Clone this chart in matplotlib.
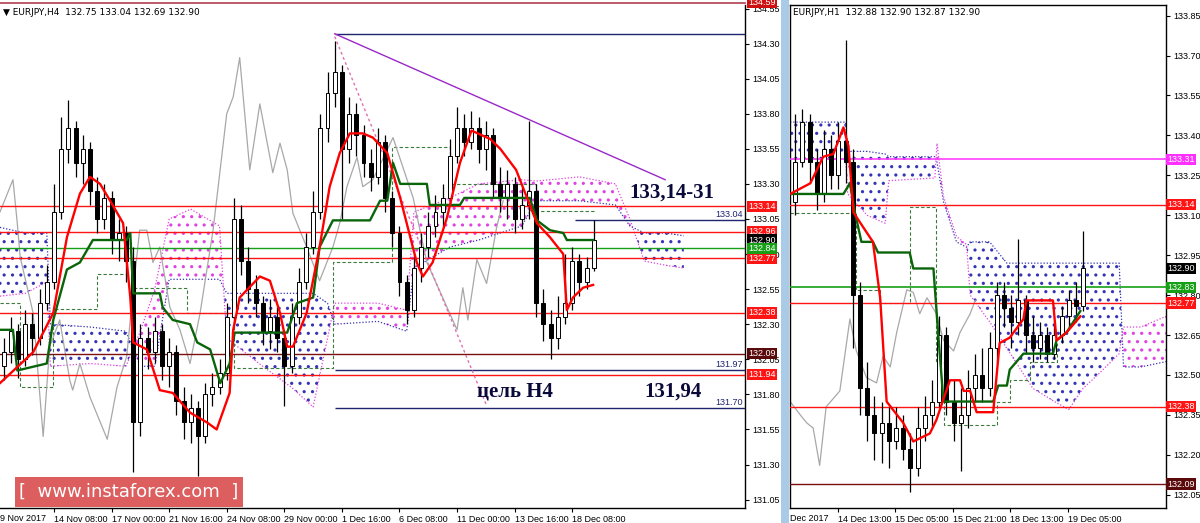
import matplotlib.pyplot as plt
import matplotlib.transforms as mtransforms
from matplotlib.patches import Rectangle
import numpy as np

plt.rcParams['hatch.linewidth'] = 1.1

# ---------------- EURJPY H4 (drawn as 8h candles) ----------------
h4_first_open = 132.00
h4_close = [132.10, 132.25, 132.05, 132.30, 132.20, 132.45, 132.60, 133.10, 133.55, 133.70,
            133.45, 133.55, 133.25, 133.05, 133.20, 132.90, 132.95, 132.75, 131.60, 132.20,
            132.10, 132.25, 132.00, 132.10, 131.75, 131.60, 131.70, 131.50, 131.80, 131.85,
            131.95, 132.35, 133.05, 132.75, 132.55, 132.45, 132.25, 132.35, 132.20, 132.00,
            132.35, 132.60, 132.85, 133.10, 133.70, 133.95, 134.10, 133.55, 133.80, 133.65,
            133.45, 133.35, 133.60, 133.20, 132.95, 132.60, 132.40, 132.70, 132.85, 133.00,
            133.10, 133.20, 133.50, 133.70, 133.60, 133.70, 133.55, 133.65, 133.30, 133.20,
            133.30, 133.05, 133.15, 133.25, 132.45, 132.30, 132.20, 132.35, 132.45, 132.75,
            132.60, 132.70, 132.90]
h4_high = [132.20, 132.35, 132.30, 132.40, 132.38, 132.55, 132.72, 133.30, 133.78, 133.90,
           133.75, 133.65, 133.60, 133.35, 133.30, 133.25, 133.05, 133.00, 132.85, 132.30,
           132.28, 132.35, 132.30, 132.20, 132.15, 131.85, 131.80, 131.75, 131.88, 131.95,
           132.05, 132.45, 133.20, 133.15, 132.85, 132.65, 132.50, 132.48, 132.42, 132.25,
           132.45, 132.70, 132.95, 133.25, 133.80, 134.10, 134.32, 134.15, 133.92, 133.88,
           133.72, 133.55, 133.70, 133.65, 133.25, 133.00, 132.65, 132.80, 132.95, 133.10,
           133.22, 133.30, 133.62, 133.85, 133.80, 133.82, 133.78, 133.75, 133.70, 133.42,
           133.40, 133.35, 133.28, 133.75, 133.30, 132.55, 132.40, 132.50, 132.80, 132.85,
           132.80, 132.78, 133.04]
h4_low = [131.90, 132.02, 131.92, 132.00, 132.08, 132.15, 132.40, 132.55, 133.05, 133.45,
          133.35, 133.30, 133.15, 132.95, 132.98, 132.80, 132.75, 132.60, 131.25, 131.50,
          131.98, 132.02, 131.90, 131.85, 131.65, 131.48, 131.45, 131.22, 131.45, 131.72,
          131.80, 131.90, 132.30, 132.65, 132.45, 132.35, 132.15, 132.12, 132.10, 131.72,
          131.95, 132.30, 132.55, 132.80, 133.05, 133.60, 133.85, 133.05, 133.45, 133.50,
          133.35, 133.25, 133.30, 133.10, 132.85, 132.50, 132.30, 132.35, 132.60, 132.78,
          132.92, 133.00, 133.15, 133.45, 133.50, 133.55, 133.45, 133.40, 133.20, 133.10,
          133.05, 132.95, 132.98, 133.05, 132.35, 132.18, 132.05, 132.12, 132.30, 132.40,
          132.50, 132.55, 132.68]

# ichimoku lines (bar index, price)
h4_tenkan_x = [-0.5, 4.1, 6.9, 8.8, 10.6, 12, 13.4, 14.8, 16.6, 17.6, 18, 19.9, 21.7, 23.5, 25.9,
               28.25, 29.6, 31.4, 31.9, 32.8, 35.6, 37, 38.4, 39.4, 40.2, 42.1, 43.9, 45.3, 46.7,
               48.1, 49.9, 51.3, 53.3, 55.1, 57.4, 58.25, 59.6, 61.6, 63.4, 65, 67.6, 69, 71.2,
               73.1, 74.1, 75.9, 77.75, 78.25, 79.1, 80.5, 81.9]
h4_tenkan_y = [131.88, 132.10, 132.38, 132.92, 133.23, 133.35, 133.30, 133.18, 133.02, 132.49,
               132.17, 132.12, 131.83, 131.81, 131.67, 131.60, 131.55, 131.81, 132.26, 132.49,
               132.64, 132.61, 132.38, 132.14, 132.14, 132.38, 132.85, 133.28, 133.52, 133.66,
               133.66, 133.63, 133.52, 133.20, 132.74, 132.64, 132.74, 133.06, 133.45, 133.68,
               133.62, 133.55, 133.40, 133.15, 133.02, 132.92, 132.80, 132.40, 132.49, 132.56,
               132.58]
h4_kijun_x = [-0.5, 1.3, 1.9, 6, 6.9, 8.8, 10.6, 12.4, 17.1, 17.6, 18, 21.7, 22.1, 23.5, 25.9,
              26.9, 28.7, 30.1, 31.4, 32.1, 39.4, 40.75, 43, 43.9, 45.75, 50.9, 52.3, 53.3, 54.1,
              55.1, 58.8, 59.2, 63.4, 64, 73.1, 74.1, 75.9, 77.75, 78.25, 81.9]
h4_kijun_y = [132.26, 132.26, 131.97, 132.02, 132.33, 132.69, 132.74, 132.90, 132.90, 132.95,
              132.52, 132.52, 132.42, 132.33, 132.30, 132.17, 132.12, 131.88, 132.02, 132.24,
              132.24, 132.45, 132.49, 132.85, 133.04, 133.04, 133.18, 133.18, 133.45, 133.30,
              133.30, 133.15, 133.15, 133.20, 133.20, 133.04, 132.97, 132.95, 132.90, 132.90]
h4_chikou_x = [-0.5, 1.3, 1.9, 2.3, 4.1, 5.5, 6.4, 7.8, 9.2, 9.6, 10.6, 12, 14.4, 15.75, 17.1,
               18, 18.9, 19.9, 20.75, 21.7, 23.1, 24.5, 25.9, 27.3, 29.1, 31, 31.9, 32.8, 34.2,
               35.6, 37.4, 38.4, 39.4, 40.2, 42.1, 43.9, 45.75, 46.7, 47.7, 49.1, 49.9, 51.3,
               54.1, 56.9, 58.8, 61, 63, 63.8, 64.5, 65.75, 67.1, 68.5, 69.4]
h4_chikou_y = [133.10, 133.33, 133.02, 132.78, 132.38, 131.50, 132.14, 132.33, 131.90, 131.83,
               132.02, 131.78, 131.48, 131.85, 132.07, 132.54, 132.97, 132.97, 132.74, 132.85,
               132.42, 132.26, 132.02, 132.38, 132.97, 133.80, 133.92, 134.20, 133.40, 133.87,
               133.38, 133.59, 133.40, 133.09, 132.85, 132.61, 132.85, 133.02, 133.28, 133.49,
               133.28, 133.33, 133.63, 133.20, 132.74, 132.49, 132.26, 132.56, 132.33, 132.76,
               132.59, 132.99, 133.18]
h4_dash_x = [-0.5, 2.3, 6.9, 13.0, 18.0, 25.5, 32.0, 45.8, 54.0, 62.0, 74.0, 82.0]
h4_dash_y = [132.45, 131.85, 132.41, 132.66, 132.56, 132.38, 131.99, 132.74, 133.56, 133.30,
             133.11, 133.11]
h4_cloud_x = [-0.5, 3, 6, 6.5, 12, 17, 19, 21, 23, 26, 30, 31, 36, 40, 43, 45, 46, 52, 56, 57,
              62, 66, 72, 74, 80, 85, 87, 89, 92, 94.5]
h4_span_a = [132.99, 132.95, 132.95, 132.30, 132.28, 132.25, 132.00, 132.00, 132.62, 132.62,
             132.62, 132.52, 132.52, 132.52, 132.52, 132.45, 132.30, 132.32, 132.25, 132.70,
             132.85, 132.90, 133.00, 133.18, 133.18, 133.15, 133.00, 132.95, 132.95, 132.93]
h4_span_b = [132.50, 132.52, 132.60, 132.00, 132.02, 132.00, 132.25, 132.55, 133.05, 133.12,
             133.00, 132.20, 132.00, 131.85, 131.71, 132.20, 132.45, 132.45, 132.40, 133.10,
             133.20, 133.30, 133.33, 133.32, 133.35, 133.30, 133.05, 132.75, 132.72, 132.70]

h4_levels_red = [133.14, 132.96, 132.77, 132.38, 131.94]
h4_level_green = 132.84
h4_level_darkred = 132.09
h4_level_top = 134.59
h4_navy_levels = [134.37, 131.97, 131.70]
h4_navy_start = 46
h4_level_1304 = 133.04
h4_level_1304_start = 79.4
trend_x = [46, 91.9]
trend_y = [134.37, 133.33]
fib_x = [46, 67.1]
fib_y = [134.35, 131.72]
h4_tick_pos = [7, 15, 23, 31, 39, 47, 55, 63, 71, 79]
h4_tick_lbl = ['14 Nov 08:00', '17 Nov 00:00', '21 Nov 16:00', '24 Nov 08:00', '29 Nov 00:00',
               '1 Dec 16:00', '6 Dec 08:00', '11 Dec 00:00', '13 Dec 16:00', '18 Dec 08:00']

# ---------------- EURJPY H1 (drawn as 2h candles) ----------------
h1_first_open = 133.15
h1_close = [133.30, 133.45, 133.30, 133.18, 133.35, 133.25, 133.38, 133.30, 132.80, 132.45,
            132.35, 132.28, 132.32, 132.25, 132.30, 132.22, 132.15, 132.30, 132.35, 132.40,
            132.65, 132.40, 132.32, 132.35, 132.45, 132.50, 132.45, 132.60, 132.80, 132.75,
            132.70, 132.78, 132.65, 132.60, 132.65, 132.58, 132.65, 132.72, 132.78, 132.76,
            132.90]
h1_high = [133.48, 133.50, 133.48, 133.35, 133.42, 133.40, 133.45, 133.76, 133.35, 132.85,
           132.55, 132.42, 132.40, 132.38, 132.38, 132.35, 132.28, 132.38, 132.42, 132.48,
           132.72, 132.68, 132.48, 132.45, 132.52, 132.58, 132.60, 132.66, 132.85, 132.85,
           132.80, 133.01, 132.80, 132.72, 132.70, 132.68, 132.70, 132.76, 132.82, 132.85,
           133.04]
h1_low = [133.10, 133.28, 133.22, 133.12, 133.15, 133.20, 133.20, 133.22, 132.60, 132.35,
          132.25, 132.18, 132.17, 132.15, 132.22, 132.18, 132.06, 132.12, 132.25, 132.30,
          132.38, 132.35, 132.25, 132.14, 132.30, 132.40, 132.40, 132.42, 132.55, 132.68,
          132.60, 132.65, 132.58, 132.55, 132.56, 132.55, 132.56, 132.62, 132.68, 132.70,
          132.74]
h1_tenkan_x = [-0.7, 0.7, 2.1, 3.9, 5.3, 6.7, 7.4, 8.1, 10.8, 11.8, 12.7, 15.0, 16.4, 18.7, 19.6,
               20.6, 21.5, 22.9, 23.4, 24.3, 25.2, 27.5, 28.4, 29.8, 31.7, 32.1, 35.8, 36.3, 37.7,
               39.6]
h1_tenkan_y = [133.18, 133.20, 133.22, 133.32, 133.33, 133.43, 133.36, 133.11, 133.00, 132.79,
               132.40, 132.32, 132.25, 132.28, 132.33, 132.41, 132.48, 132.48, 132.44, 132.44,
               132.36, 132.36, 132.62, 132.64, 132.71, 132.78, 132.78, 132.63, 132.66, 132.72]
h1_kijun_x = [-0.7, 6.7, 7.6, 8.3, 9.2, 10.8, 11.5, 15.9, 16.4, 19.2, 19.9, 20.6, 27.5, 28.2,
              29.4, 29.8, 31.7, 35.8, 36.3, 37.7, 39.6]
h1_kijun_y = [133.18, 133.18, 133.22, 133.11, 133.00, 133.00, 132.96, 132.96, 132.90, 132.90,
              132.64, 132.40, 132.40, 132.46, 132.46, 132.52, 132.58, 132.58, 132.63, 132.66,
              132.74]
h1_chikou_x = [-0.7, 0.7, 1.6, 2.5, 3.4, 4.3, 6.2, 7.6, 8.5, 9.9, 11.3, 12.2, 13.2, 14.1, 15.5,
               16.4, 17.3, 18.3, 19.6, 20.6, 22.0, 22.9, 24.3, 25.0]
h1_chikou_y = [132.40, 132.35, 132.32, 132.30, 132.16, 132.38, 132.44, 132.71, 132.59, 132.49,
               132.47, 132.57, 132.53, 132.66, 132.82, 132.81, 132.73, 132.79, 132.73, 132.63,
               132.59, 132.66, 132.73, 132.78]
h1_dash_x = [-0.7, 7.1, 8.5, 11.8, 15.9, 19.6, 20.6, 28.0, 29.8, 32.6, 36.3]
h1_dash_y = [133.11, 133.11, 132.82, 132.77, 133.13, 132.55, 132.31, 132.40, 132.48, 132.55,
             132.62]
h1_cloud_x = [-0.7, 7.0, 7.3, 10, 12.5, 13, 19.4, 19.7, 20.6, 22.4, 23.8, 24.3, 27, 29.4, 33, 36,
              38, 40, 42, 45, 45.6, 48, 51.5]
h1_span_a = [133.45, 133.45, 133.34, 133.34, 133.33, 133.32, 133.32, 133.30, 133.15, 133.00,
             132.98, 133.00, 133.00, 132.92, 132.92, 132.92, 132.92, 132.92, 132.92, 132.92,
             132.53, 132.53, 132.55]
h1_span_b = [133.31, 133.31, 133.18, 133.10, 133.07, 133.23, 133.24, 133.37, 133.17, 133.02,
             132.99, 132.80, 132.70, 132.60, 132.45, 132.40, 132.37, 132.45, 132.50, 132.58,
             132.68, 132.68, 132.72]
h1_levels_red = [133.14, 132.77, 132.38]
h1_level_green = 132.83
h1_level_magenta = 133.31
h1_level_darkred = 132.09
h1_tick_pos = [5.9, 13.9, 21.9, 29.9, 37.9]
h1_tick_lbl = ['14 Dec 13:00', '15 Dec 05:00', '15 Dec 21:00', '18 Dec 13:00', '19 Dec 05:00']

RED = '#ff1414'
DKRED = '#7a1010'
GREEN = '#16a016'
NAVY = '#1e2470'
BLUE_C = '#3434b4'
PINK_C = '#e044e0'
TICK_FONT = 'Liberation Sans'
TICK_SIZE = 6.5


def draw_candles(ax, first_open, close, high, low):
    opens = [first_open] + close[:-1]
    x = np.arange(len(close))
    ax.vlines(x, low, high, color='black', lw=0.9, zorder=4)
    for xi, o, c in zip(x, opens, close):
        fc = 'white' if c >= o else 'black'
        h = max(abs(c - o), 0.006)
        ax.bar(xi, h, bottom=min(o, c), width=0.55, facecolor=fc,
               edgecolor='black', linewidth=0.7, zorder=5)


def draw_cloud(ax, x, a, b):
    x = np.array(x)
    a = np.array(a)
    b = np.array(b)
    ax.fill_between(x, a, b, where=a >= b, interpolate=True, facecolor='none',
                    edgecolor=BLUE_C, hatch='..', linewidth=0, zorder=1)
    ax.fill_between(x, a, b, where=a < b, interpolate=True, facecolor='none',
                    edgecolor=PINK_C, hatch='..', linewidth=0, zorder=1)
    ax.plot(x, a, color=BLUE_C, ls=(0, (1, 1.5)), lw=0.9, zorder=1)
    ax.plot(x, b, color=PINK_C, ls=(0, (1, 1.5)), lw=0.9, zorder=1)


def price_tag(ax, y, text, bg, fg='white'):
    tr = mtransforms.blended_transform_factory(ax.transAxes, ax.transData)
    ax.text(1.004, y, text, transform=tr, ha='left', va='center', fontsize=TICK_SIZE, color=fg,
            family=TICK_FONT,
            bbox=dict(boxstyle='square,pad=0.12', fc=bg, ec='none'), clip_on=False, zorder=20)


def style_axis(ax, yticks):
    ax.yaxis.tick_right()
    ax.set_yticks(yticks)
    ax.set_yticklabels([f'{v:.2f}' for v in yticks])
    ax.tick_params(axis='both', labelsize=TICK_SIZE, length=3, width=0.8, pad=2, colors='black')
    for lbl in ax.get_yticklabels() + ax.get_xticklabels():
        lbl.set_family(TICK_FONT)
    for s in ax.spines.values():
        s.set_color('black')
        s.set_linewidth(1)


fig = plt.figure(figsize=(12, 5.23), dpi=100)
fig.patch.set_facecolor('white')

# ---------- left: H4 ----------
ax1 = fig.add_axes([0, 15 / 523, 745 / 1200, 503 / 523])
ax1.set_xlim(-0.5, 103.0)
ax1.set_ylim(130.99, 134.575)
draw_cloud(ax1, h4_cloud_x, h4_span_a, h4_span_b)
ax1.plot(h4_dash_x, h4_dash_y, drawstyle='steps-post', color='#3a7a3a', ls=(0, (3, 2)), lw=0.8, zorder=2)
ax1.plot(h4_chikou_x, h4_chikou_y, color='#a8a8a8', lw=0.9, zorder=2)
for lv in h4_levels_red:
    ax1.axhline(lv, color=RED, lw=1.0, zorder=3)
ax1.axhline(h4_level_green, color=GREEN, lw=1.0, zorder=3)
ax1.axhline(h4_level_darkred, color=DKRED, lw=1.0, zorder=3)
ax1.axhline(h4_level_top, color='#b04050', lw=1.2, zorder=3, clip_on=False)
for lv in h4_navy_levels:
    ax1.hlines(lv, h4_navy_start, 103.0, color=NAVY, lw=1.0, zorder=3)
ax1.hlines(h4_level_1304, h4_level_1304_start, 103.0, color=NAVY, lw=1.0, zorder=3)
ax1.plot(trend_x, trend_y, color='#9a28c8', lw=1.0, zorder=3)
ax1.plot(fib_x, fib_y, color='#e070b0', ls=(0, (2, 2)), lw=1.0, zorder=3)
ax1.plot(h4_kijun_x, h4_kijun_y, color='#0a640a', lw=1.7, zorder=6)
ax1.plot(h4_tenkan_x, h4_tenkan_y, color='#ff0000', lw=1.7, zorder=6)
draw_candles(ax1, h4_first_open, h4_close, h4_high, h4_low)

for lv in [h4_level_1304] + h4_navy_levels[1:]:
    tr = mtransforms.blended_transform_factory(ax1.transAxes, ax1.transData)
    ax1.text(0.997, lv + 0.012, f'{lv:.2f}', transform=tr, ha='right', va='bottom',
             fontsize=6.5, color=NAVY, family=TICK_FONT, zorder=8)

ax1.text(92.8, 133.24, '133,14-31', fontsize=15, fontweight='bold', family='Liberation Serif',
         color='#0a0a3a', ha='center', va='center', zorder=9)
ax1.text(71.1, 131.82, 'цель H4', fontsize=15, fontweight='bold', family='Liberation Serif',
         color='#0a0a3a', ha='center', va='center', zorder=9)
ax1.text(93.0, 131.82, '131,94', fontsize=15, fontweight='bold', family='Liberation Serif',
         color='#0a0a3a', ha='center', va='center', zorder=9)

ax1.set_xticks(h4_tick_pos)
ax1.set_xticklabels(h4_tick_lbl)
style_axis(ax1, np.round(np.arange(131.05, 134.56, 0.25), 2))
ax1.spines['left'].set_visible(False)
ax1.spines['top'].set_visible(False)
for lbl in ax1.get_xticklabels():
    lbl.set_ha('left')
ax1.text(0.0, -0.012, '9 Nov 2017', transform=ax1.transAxes, fontsize=TICK_SIZE, family=TICK_FONT,
         ha='left', va='top')
ax1.text(0.004, 0.995, '\u25bc EURJPY,H4  132.75 133.04 132.69 132.90', transform=ax1.transAxes,
         fontsize=6.5, ha='left', va='top', zorder=20)

price_tag(ax1, 134.59, '134.59', '#d01010')
for lv in h4_levels_red:
    price_tag(ax1, lv, f'{lv:.2f}', RED)
price_tag(ax1, 132.90, '132.90', 'black')
price_tag(ax1, h4_level_green, f'{h4_level_green:.2f}', GREEN)
price_tag(ax1, h4_level_darkred, f'{h4_level_darkred:.2f}', '#5a0a0a')

# ---------- right: H1 ----------
ax2 = fig.add_axes([790 / 1200, 15 / 523, 376 / 1200, 503 / 523])
ax2.set_xlim(-0.72, 51.5)
ax2.set_ylim(132.00, 133.89)
draw_cloud(ax2, h1_cloud_x, h1_span_a, h1_span_b)
ax2.plot(h1_dash_x, h1_dash_y, drawstyle='steps-post', color='#3a7a3a', ls=(0, (3, 2)), lw=0.8, zorder=2)
ax2.plot(h1_chikou_x, h1_chikou_y, color='#a8a8a8', lw=0.9, zorder=2)
ax2.axhline(h1_level_magenta, color='#ff40ff', lw=1.2, zorder=3)
for lv in h1_levels_red:
    ax2.axhline(lv, color=RED, lw=1.0, zorder=3)
ax2.axhline(h1_level_green, color=GREEN, lw=1.2, zorder=3)
ax2.axhline(h1_level_darkred, color=DKRED, lw=1.0, zorder=3)
ax2.plot(h1_kijun_x, h1_kijun_y, color='#0a640a', lw=1.7, zorder=6)
ax2.plot(h1_tenkan_x, h1_tenkan_y, color='#ff0000', lw=1.7, zorder=6)
draw_candles(ax2, h1_first_open, h1_close, h1_high, h1_low)

ax2.set_xticks(h1_tick_pos)
ax2.set_xticklabels(h1_tick_lbl)
style_axis(ax2, np.round(np.arange(132.05, 133.86, 0.15), 2))
for lbl in ax2.get_xticklabels():
    lbl.set_ha('left')
ax2.text(0.0, -0.012, 'Dec 2017', transform=ax2.transAxes, fontsize=TICK_SIZE, family=TICK_FONT,
         ha='left', va='top')
ax2.text(0.008, 0.995, 'EURJPY,H1  132.88 132.90 132.87 132.90', transform=ax2.transAxes,
         fontsize=6.5, ha='left', va='top', zorder=20)

price_tag(ax2, h1_level_magenta, f'{h1_level_magenta:.2f}', '#ff30ff')
price_tag(ax2, 133.14, '133.14', RED)
price_tag(ax2, 132.90, '132.90', 'black')
price_tag(ax2, h1_level_green, f'{h1_level_green:.2f}', GREEN)
price_tag(ax2, 132.77, '132.77', RED)
price_tag(ax2, 132.38, '132.38', RED)
price_tag(ax2, h1_level_darkred, f'{h1_level_darkred:.2f}', '#5a0a0a')

# separator strip between the two charts
fig.patches.append(Rectangle((781 / 1200, 0), 8 / 1200, 1, transform=fig.transFigure,
                             facecolor='#a9cbe8', edgecolor='none', zorder=0))

# watermark
fig.patches.append(Rectangle((15 / 1200, 16 / 523), 228 / 1200, 30 / 523, transform=fig.transFigure,
                             facecolor='#d95050', edgecolor='none', alpha=0.92, zorder=30))
fig.text(129 / 1200, 31 / 523, '[  www.instaforex.com  ]', color='white', fontsize=13,
         ha='center', va='center', zorder=31)

fig.savefig('out.png', dpi=100)
